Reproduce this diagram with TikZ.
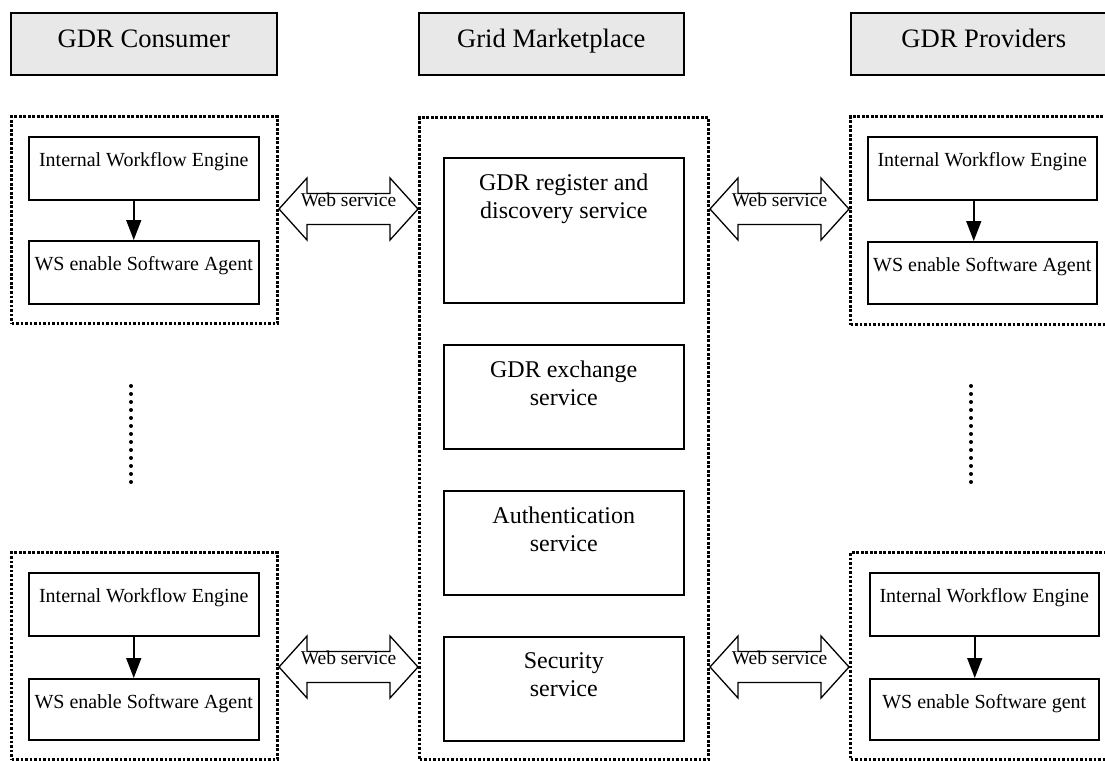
\documentclass[tikz,border=0pt]{standalone}
\usepackage{fontspec}
\setmainfont{Liberation Serif}
\usetikzlibrary{arrows.meta,calc}
\definecolor{headgray}{RGB}{232,232,232}
\newcommand\myhfont{\fontsize{26.6}{30}\selectfont}
\newcommand\mysfont{\fontsize{24}{28}\selectfont}
\newcommand\myifont{\fontsize{20}{24}\selectfont}
\newcommand\mywfont{\fontsize{19.5}{22}\selectfont}
\newcommand\wsarrow[3]{%
  \draw[warrow] let \p1=(#1), \p2=(#2) in
    (\x1,\y1) -- (\x1+28pt,\y1+31pt) -- (\x1+28pt,\y1+15.5pt) -- (\x2-28pt,\y1+15.5pt)
    -- (\x2-28pt,\y1+31pt) -- (\x2,\y1) -- (\x2-28pt,\y1-31pt) -- (\x2-28pt,\y1-15.5pt)
    -- (\x1+28pt,\y1-15.5pt) -- (\x1+28pt,\y1-31pt) -- cycle;
  \node[wlabel] (#3) at ($(#1)!0.5!(#2)+(0,-3)$) {Web service};}
\begin{document}
\begin{tikzpicture}[x=1pt,y=-1pt,
  header/.style={draw,line width=1.6pt,fill=headgray,inner sep=0pt,anchor=north west,minimum height=62pt},
  dotbox/.style={draw,line width=3pt,dash pattern=on 2.6pt off 1.9pt,inner sep=0pt,anchor=north west},
  ibox/.style={draw,line width=1.5pt,inner sep=0pt,anchor=north west},
  htext/.style={anchor=base,font=\myhfont,inner sep=0pt},
  stext/.style={anchor=base,font=\mysfont,inner sep=0pt},
  itext/.style={anchor=base,font=\myifont,inner sep=0pt},
  wlabel/.style={anchor=base,font=\mywfont,inner sep=0pt},
  warrow/.style={draw,line width=1.3pt,fill=white,line join=miter},
  flow/.style={-{Triangle[length=20pt,width=15pt]},line width=1.5pt},
  dotcol/.style={fill=black}]
\useasboundingbox (0,0) rectangle (1105,760);

% headers
\node[header,minimum width=266pt] (hc) at (10,12) {};
\node[header,minimum width=265pt] (hm) at (418,12) {};
\node[header,minimum width=266pt] (hp) at (850,12) {};
\node[htext] (thc) at ($(hc.north)+(0,36)$) {GDR Consumer};
\node[htext] (thm) at ($(hm.north)+(0,36)$) {Grid Marketplace};
\node[htext] (thp) at ($(hp.north)+(0,36)$) {GDR Providers};

% dotted containers
\node[dotbox,minimum width=266pt,minimum height=207pt] (c1) at (10,115) {};
\node[dotbox,minimum width=266pt,minimum height=207pt] (c2) at (10,551) {};
\node[dotbox,minimum width=289pt,minimum height=642pt] (m) at (418,116) {};
\node[dotbox,minimum width=290pt,minimum height=208pt] (p1) at (849,115) {};
\node[dotbox,minimum width=290pt,minimum height=207pt] (p2) at (849,551) {};

% consumer inner boxes
\node[ibox,minimum width=230pt,minimum height=63pt] (c1a) at (28,136) {};
\node[ibox,minimum width=230pt,minimum height=63pt] (c1b) at (28,240) {};
\node[ibox,minimum width=230pt,minimum height=63pt] (c2a) at (28,572) {};
\node[ibox,minimum width=230pt,minimum height=61pt] (c2b) at (28,678) {};
\node[itext] (tc1a) at ($(c1a.north)+(0,30)$) {Internal Workflow Engine};
\node[itext] (tc1b) at ($(c1b.north)+(0,30)$) {WS enable Software Agent};
\node[itext] (tc2a) at ($(c2a.north)+(0,30)$) {Internal Workflow Engine};
\node[itext] (tc2b) at ($(c2b.north)+(0,30)$) {WS enable Software Agent};

% provider inner boxes
\node[ibox,minimum width=229pt,minimum height=63pt] (p1a) at (867,136) {};
\node[ibox,minimum width=229pt,minimum height=62pt] (p1b) at (867,241) {};
\node[ibox,minimum width=229pt,minimum height=63pt] (p2a) at (869,572) {};
\node[ibox,minimum width=229pt,minimum height=61pt] (p2b) at (869,678) {};
\node[itext] (tp1a) at ($(p1a.north)+(0,30)$) {Internal Workflow Engine};
\node[itext] (tp1b) at ($(p1b.north)+(0,30)$) {WS enable Software Agent};
\node[itext] (tp2a) at ($(p2a.north)+(0,30)$) {Internal Workflow Engine};
\node[itext] (tp2b) at ($(p2b.north)+(0,30)$) {WS enable Software gent};

% flow arrows
\draw[flow] ([xshift=-10pt]c1a.south) -- ([xshift=-10pt]c1b.north);
\draw[flow] ([xshift=-10pt]c2a.south) -- ([xshift=-10pt]c2b.north);
\draw[flow] ([xshift=-8.5pt]p1a.south) -- ([xshift=-8.5pt]p1b.north);
\draw[flow] ([xshift=-9.5pt]p2a.south) -- ([xshift=-9.5pt]p2b.north);

% marketplace services
\node[ibox,minimum width=240pt,minimum height=145pt] (s1) at (443,157) {};
\node[ibox,minimum width=240pt,minimum height=104pt] (s2) at (443,344) {};
\node[ibox,minimum width=240pt,minimum height=104pt] (s3) at (443,490) {};
\node[ibox,minimum width=240pt,minimum height=104pt] (s4) at (443,636) {};
\node[stext] (ts1a) at ($(s1.north)+(0,33)$) {GDR register and};
\node[stext] (ts1b) at ($(s1.north)+(0,61)$) {discovery service};
\node[stext] (ts2a) at ($(s2.north)+(0,33)$) {GDR exchange};
\node[stext] (ts2b) at ($(s2.north)+(0,61)$) {service};
\node[stext] (ts3a) at ($(s3.north)+(0,33)$) {Authentication};
\node[stext] (ts3b) at ($(s3.north)+(0,61)$) {service};
\node[stext] (ts4a) at ($(s4.north)+(0,32)$) {Security};
\node[stext] (ts4b) at ($(s4.north)+(0,60)$) {service};

% web service double arrows
\coordinate (ytop) at (0,209);
\coordinate (ybot) at (0,667);
\wsarrow{c1.east |- ytop}{m.west |- ytop}{ws1}
\wsarrow{m.east |- ytop}{p1.west |- ytop}{ws2}
\wsarrow{c2.east |- ybot}{m.west |- ybot}{ws3}
\wsarrow{m.east |- ybot}{p2.west |- ybot}{ws4}

% vertical ellipsis dots
\foreach \i in {0,...,12} {
  \fill[dotcol] (131,386+8*\i) circle (2pt);
  \fill[dotcol] (971,386+8*\i) circle (2pt);
}
\end{tikzpicture}
\end{document}
